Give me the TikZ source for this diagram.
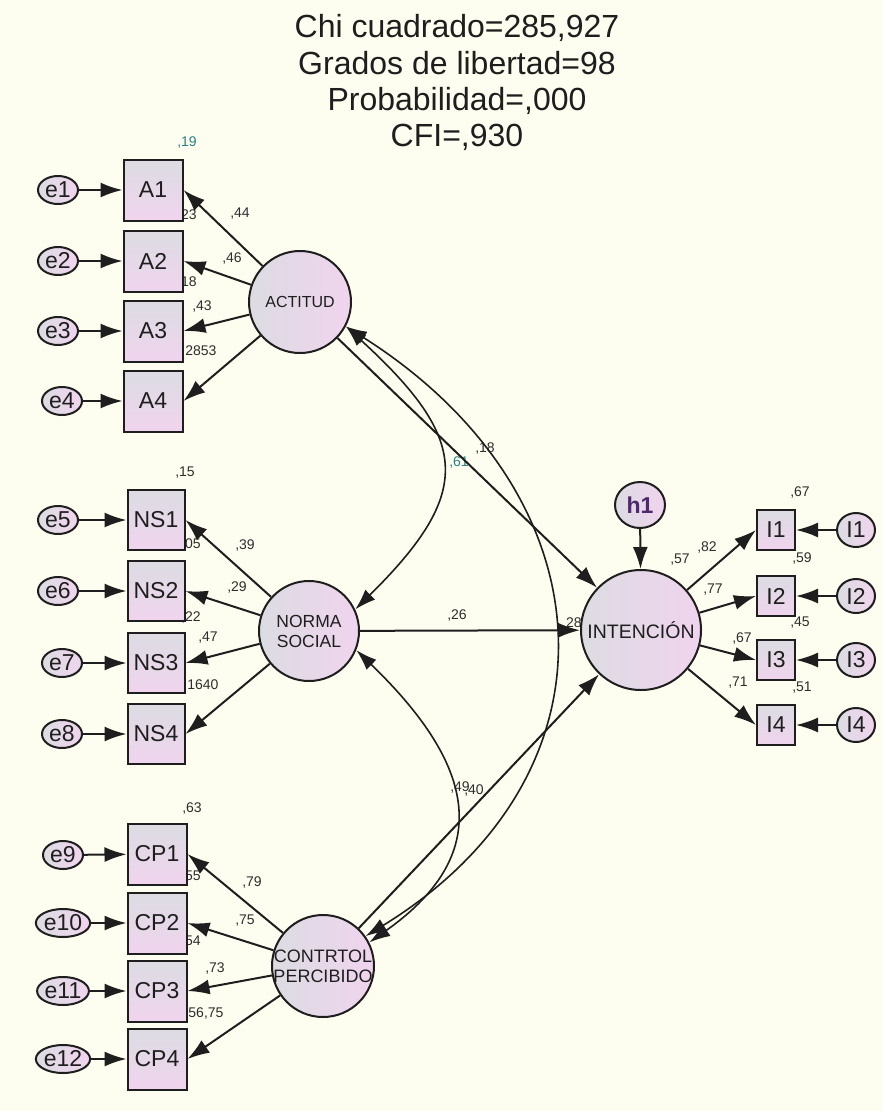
\documentclass[tikz,border=0pt]{standalone}
\usepackage{fontspec}
\setmainfont{Liberation Sans}
\usetikzlibrary{arrows.meta,shapes.geometric}
\definecolor{bg}{RGB}{254,254,240}
\definecolor{fa}{RGB}{220,220,226}
\definecolor{fb}{RGB}{240,212,238}
\definecolor{ink}{RGB}{30,30,30}
\definecolor{numc}{RGB}{45,45,45}
\definecolor{tealc}{RGB}{40,130,130}
\begin{document}
\begin{tikzpicture}[x=1pt,y=-1pt,
  obs/.style={draw=ink,line width=2pt,minimum width=59pt,minimum height=61pt,inner sep=0pt,
     top color=fa,bottom color=fb,font=\fontsize{23}{24}\selectfont,text=ink},
  obsi/.style={obs,minimum width=38pt,minimum height=40pt},
  err/.style={ellipse,draw=ink,line width=2pt,minimum width=40pt,minimum height=28pt,inner sep=0pt,
     left color=fa,right color=fb,font=\fontsize{23}{24}\selectfont,text=ink},
  erri/.style={err,minimum width=38pt,minimum height=34pt},
  lat/.style={circle,draw=ink,line width=2pt,minimum size=102pt,inner sep=0pt,
     left color=fa,right color=fb},
  lattext/.style={font=\fontsize{16}{19}\selectfont,text=ink,align=center,inner sep=0pt},
  num/.style={font=\fontsize{14}{14}\selectfont,text=numc,inner sep=0pt},
  ttl/.style={font=\fontsize{32}{36}\selectfont,text=ink,anchor=base,inner sep=0pt},
  arr/.style={line width=2pt,draw=ink,-{Latex[length=22pt,width=15pt]}},
  cov/.style={line width=1.6pt,draw=ink,{Latex[length=21pt,width=14pt]}-{Latex[length=21pt,width=14pt]}}
]
\useasboundingbox[fill=bg] (0,0) rectangle (883,1111);

% title
\node[ttl] (t1) at (457,37) {Chi cuadrado=285,927};
\node[ttl] (t2) at (457,74) {Grados de libertad=98};
\node[ttl] (t3) at (457,110) {Probabilidad=,000};
\node[ttl] (t4) at (457,146) {CFI=,930};

% numeric labels (drawn first; boxes may cover them)
\node[num,text=tealc] (n19) at (187,143) {,19};
\node[num] (n23) at (187,216) {,23};
\node[num] (n44) at (240,214) {,44};
\node[num] (n46) at (232,259) {,46};
\node[num] (n18a) at (187,283) {,18};
\node[num] (n43) at (202,307) {,43};
\node[num] (n2853) at (199,352) {,2853};
\node[num] (n15) at (185,473) {,15};
\node[num] (n05) at (191,545) {,05};
\node[num] (n39) at (245,546) {,39};
\node[num] (n29) at (237,587) {,29};
\node[num] (n22) at (191,617) {,22};
\node[num] (n47) at (208,638) {,47};
\node[num] (n1640) at (201,685) {,1640};
\node[num] (n63) at (192,808) {,63};
\node[num] (n55) at (191,877) {,55};
\node[num] (n79) at (252,882) {,79};
\node[num] (n75a) at (245,921) {,75};
\node[num] (n54) at (191,942) {,54};
\node[num] (n73) at (215,968) {,73};
\node[num] (n5675) at (204,1013) {,56,75};
\node[num,text=tealc] (n61) at (459,463) {,61};
\node[num] (n18b) at (485,449) {,18};
\node[num] (n26) at (457,615) {,26};
\node[num] (n28) at (572,623) {,28};
\node[num] (n49) at (460,787) {,49};
\node[num] (n40) at (474,790) {,40};
\node[num] (n67a) at (800,493) {,67};
\node[num] (n57) at (680,560) {,57};
\node[num] (n82) at (707,547) {,82};
\node[num] (n59) at (802,558) {,59};
\node[num] (n77) at (713,590) {,77};
\node[num] (n45) at (800,623) {,45};
\node[num] (n67b) at (742,638) {,67};
\node[num] (n71) at (738,683) {,71};
\node[num] (n51) at (802,688) {,51};

% latent variables
\node[lat] (act) at (300,302) {};
\node[lattext] (actt) at (act) {ACTITUD};
\node[lat,minimum size=100pt] (ns) at (309,631) {};
\node[lattext,font=\fontsize{17.5}{20}\selectfont] (nst) at (ns) {NORMA\\SOCIAL};
\node[lat] (cp) at (323,966) {};
\node[lattext,font=\fontsize{18}{20}\selectfont] (cpt) at (cp) {CONTRTOL\\PERCIBIDO};
\node[lat,minimum size=120pt] (int) at (641,630) {};
\node[lattext,font=\fontsize{19.5}{21}\selectfont] (intt) at (int) {INTENCIÓN};
\node[err,minimum width=50pt,minimum height=46pt,font=\fontsize{23}{24}\selectfont\bfseries,text={rgb,255:red,80;green,40;blue,110}] (h1) at (640,505) {h1};

% observed indicators
\foreach \n/\y in {1/190,2/261,3/331,4/401}{\node[obs] (A\n) at (153,\y) {A\n};}
\foreach \n/\y in {1/520,2/591,3/663,4/734}{\node[obs,minimum width=57pt,minimum height=60pt] (NS\n) at (156,\y) {NS\n};}
\foreach \n/\y in {1/854,2/923,3/991,4/1059}{\node[obs] (CP\n) at (157,\y) {CP\n};}
\foreach \n/\y in {1/530,2/596,3/660,4/725}{\node[obsi] (I\n) at (776,\y) {I\n};}

% error terms
\foreach \n/\x/\y in {1/58/190,2/58/261,3/58/331,4/62/401,5/58/520,6/58/591,7/62/663,8/62/734,9/63/855,10/63/923,11/63/991,12/63/1059}{\node[err] (e\n) at (\x,\y) {e\n};}
\foreach \n/\y in {1/530,2/596,3/660,4/725}{\node[erri] (r\n) at (856,\y) {I\n};}

% error arrows
\foreach \n in {1,...,4}{\draw[arr] (e\n) -- (A\n);}
\foreach \n/\m in {5/1,6/2,7/3,8/4}{\draw[arr] (e\n) -- (NS\m);}
\foreach \n/\m in {9/1,10/2,11/3,12/4}{\draw[arr] (e\n) -- (CP\m);}
\foreach \n in {1,...,4}{\draw[arr] (r\n) -- (I\n.east);}

% loadings
\foreach \n in {1,...,4}{\draw[arr] (act) -- (A\n.east);}
\foreach \n in {1,...,4}{\draw[arr] (ns) -- (NS\n.east);}
\foreach \n in {1,...,4}{\draw[arr] (cp) -- (CP\n.east);}
\foreach \n in {1,...,4}{\draw[arr] (int) -- (I\n.west);}

% structural paths
\draw[arr] (act) -- (int);
\draw[arr] (ns) -- (int);
\draw[arr] (cp) -- (int);
\draw[arr] (h1) -- (int);

% covariances
\draw[cov] (act.-28) .. controls (470,440) and (474,492) .. (ns.25);
\draw[cov] (ns.-22) .. controls (470,760) and (500,850) .. (cp.27);
\draw[cov] (act.-28) .. controls (612,495) and (628,775) .. (cp.35);
\end{tikzpicture}
\end{document}
